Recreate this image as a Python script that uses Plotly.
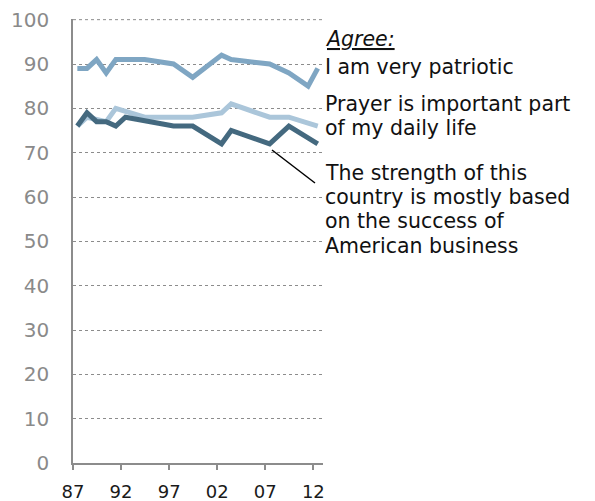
import plotly.graph_objects as go

# ---- data ----
patriotic_years = [1987, 1988, 1989, 1990, 1991, 1994, 1997, 1999, 2002, 2003, 2007, 2009, 2011, 2012]
patriotic_vals = [89, 89, 91, 88, 91, 91, 90, 87, 92, 91, 90, 88, 85, 89]

prayer_years = [1987, 1988, 1990, 1991, 1994, 1997, 1999, 2002, 2003, 2007, 2009, 2012]
prayer_vals = [76, 78, 77, 80, 78, 78, 78, 79, 81, 78, 78, 76]

business_years = [1987, 1988, 1989, 1990, 1991, 1992, 1997, 1999, 2002, 2003, 2007, 2009, 2012]
business_vals = [76, 79, 77, 77, 76, 78, 76, 76, 72, 75, 72, 76, 72]

tick_years = [1987, 1992, 1997, 2002, 2007, 2012]
tick_labels = ["87", "92", "97", "02", "07", "12"]
y_ticks = list(range(0, 101, 10))

def mid(years):
    return [f"{y}-06-15" for y in years]

# ---- layout geometry (screen pixels; page body has an 8px margin) ----
OFF = 8
W, H = 595 - OFF, 501 - OFF
L, R, T, B = 73, 323, 19, 463  # plot area in screen pixels
PW, PH = R - L, B - T

def px(x):
    return (x - L) / PW

def py(y):
    return (B - y) / PH

fig = go.Figure()
fig.add_trace(go.Scatter(x=mid(patriotic_years), y=patriotic_vals, mode="lines",
                         line=dict(color="#7fa6c3", width=5), hoverinfo="skip"))
fig.add_trace(go.Scatter(x=mid(prayer_years), y=prayer_vals, mode="lines",
                         line=dict(color="#abc6da", width=5), hoverinfo="skip"))
fig.add_trace(go.Scatter(x=mid(business_years), y=business_vals, mode="lines",
                         line=dict(color="#44697f", width=5), hoverinfo="skip"))

txt_font = dict(family="DejaVu Sans", size=20.5, color="#111111")
lines = [
    ("<i><u>Agree:</u></i>", 39),
    ("I am very patriotic", 67),
    ("Prayer is important part", 104),
    ("of my daily life", 128),
    ("The strength of this", 173),
    ("country is mostly based", 197),
    ("on the success of", 221),
    ("American business", 246),
]
for t, yy in lines:
    fig.add_annotation(text=t, xref="paper", yref="paper", x=px(323), y=py(yy),
                       xanchor="left", yanchor="middle", showarrow=False, font=txt_font)

fig.add_shape(type="line", xref="paper", yref="paper",
              x0=px(272), y0=py(150), x1=px(315), y1=py(183),
              line=dict(color="#000000", width=1.5))

# top gridline (at the edge of the range)
fig.add_shape(type="line", xref="paper", yref="y", x0=0, x1=1,
              y0=y_ticks[-1], y1=y_ticks[-1],
              line=dict(color="#8c8c8c", width=1, dash="dot"), layer="below")

fig.update_layout(
    width=W, height=H,
    margin=dict(l=L - OFF, r=W - (R - OFF), t=T - OFF, b=H - (B - OFF), autoexpand=False),
    paper_bgcolor="white", plot_bgcolor="white",
    showlegend=False,
    xaxis=dict(
        type="date",
        automargin=False,
        range=["1987-01-01", "2013-01-01"],
        tickvals=[f"{y}-01-01" for y in tick_years],
        ticktext=tick_labels,
        ticks="outside", ticklen=5, tickcolor="#8c8c8c", tickwidth=1.5,
        showline=True, linecolor="#8c8c8c", linewidth=1.5,
        showgrid=False, zeroline=False,
        tickfont=dict(family="DejaVu Sans", size=18, color="#1a1a1a"),
        ticklabelstandoff=7,
        ticklabeloverflow="allow",
    ),
    yaxis=dict(
        automargin=False,
        range=[0, 100.15],
        tickvals=y_ticks,
        ticks="", showline=True, linecolor="#8c8c8c", linewidth=1.5,
        showgrid=True, gridcolor="#8c8c8c", griddash="dot", gridwidth=1,
        zeroline=False,
        tickfont=dict(family="DejaVu Sans", size=20, color="#8a8a8a"),
        ticklabelstandoff=18,
        ticklabeloverflow="allow",
    ),
)

fig.write_html("out.html")
